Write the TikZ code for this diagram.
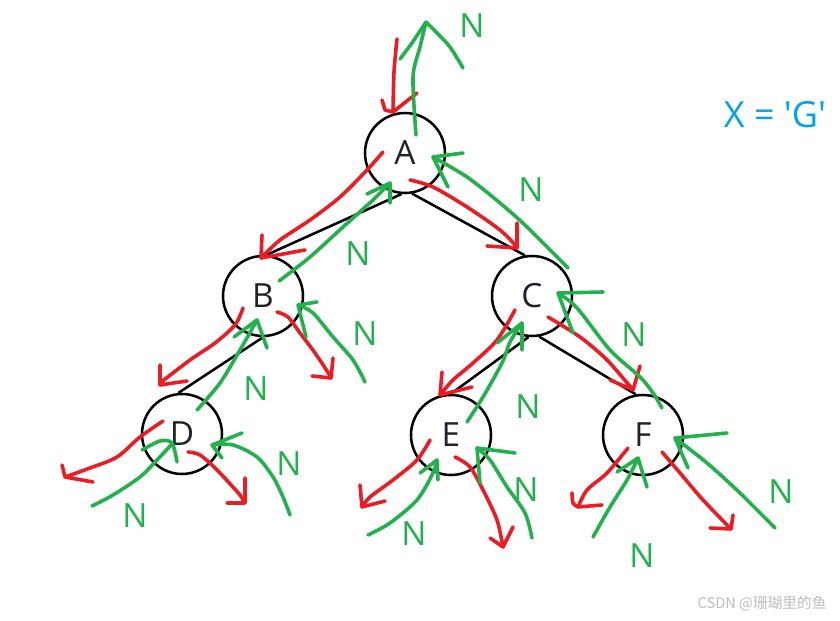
\documentclass[tikz,border=0pt]{standalone}
\usepackage{fontspec}
\setmainfont{Open Sans}
\newfontfamily\keyfont{Open Sans}
\newfontfamily\cjkfont{Noto Sans CJK SC}
\usepackage{tikz}
\usetikzlibrary{positioning}
\usepackage{xcolor}
\definecolor{penred}{RGB}{237,28,36}
\definecolor{pengreen}{RGB}{34,177,76}
\definecolor{xblue}{RGB}{0,162,232}
\definecolor{inkdark}{RGB}{32,33,44}
\definecolor{wmgray}{RGB}{190,190,190}
\tikzset{
  vtx/.style    ={draw, circle, minimum size=60pt, inner sep=0pt,
                  line width=1.9pt, text=inkdark,
                  font=\fontsize{25}{30}\selectfont},
  tedge/.style  ={line width=1.9pt},
  redpen/.style ={draw=penred, line width=2.7pt, line cap=round,
                  line join=round},
  grnpen/.style ={draw=pengreen, line width=2.7pt, line cap=round,
                  line join=round},
  nlab/.style   ={text=pengreen, inner sep=0pt,
                  font=\fontsize{25}{30}\selectfont},
  xlab/.style   ={text=xblue, inner sep=0pt,
                  font=\keyfont\fontsize{27}{32}\selectfont},
  wmark/.style  ={text=wmgray, inner sep=0pt,
                  font=\cjkfont\fontsize{11}{13}\selectfont},
}

\begin{document}
\begin{tikzpicture}[x=0.75pt, y=-0.75pt]
  \fill[white] (0,0) rectangle (840,621);
  % tree
  \node[vtx] (A) at (405,153) {A};
  \node[vtx] (B) at (263,296) {B};
  \node[vtx] (C) at (532,296) {C};
  \node[vtx] (D) at (182,434) {D};
  \node[vtx] (E) at (451,435) {E};
  \node[vtx] (F) at (643,435) {F};
  \draw[tedge] (A.-95) -- (B.85);
  \draw[tedge] (A.-80) -- (C.100);
  \draw[tedge] (B.-90) -- (D.95);
  \draw[tedge] (C.-95) -- (E.90);
  \draw[tedge] (C.-80) -- (F.100);

  % A: in from above, back up to the root
  \draw[redpen] plot[smooth] coordinates {(397,39) (394,72) (393,112)}
    (382,100) -- (385,110) -- (393,112) -- (417,93);
  \draw[grnpen] plot[smooth] coordinates {(416,135) (413,77) (420,47) (426,22)}
    (400,59) -- (412,43) -- (426,22)
    plot[smooth] coordinates {(426,22) (437,33) (450,47) (463,68)};
  \node[nlab] (n1) at (472,26) {N};

  % A -> B and back
  \draw[redpen] plot[smooth] coordinates {(383,152) (367,170) (340,197) (310,220) (280,240) (261,258)}
    (262,235) -- (261,258) -- (305,250);
  \draw[grnpen] plot[smooth] coordinates {(279,281) (310,257) (343,227) (373,200) (390,183)}
    (367,194) -- (390,183) -- (390,203);
  \node[nlab] (n2) at (358,254) {N};

  % A -> C and back
  \draw[redpen] plot[smooth] coordinates {(410,180) (433,187) (467,207) (500,230) (517,247)}
    (517,223) -- (517,248) -- (487,246);
  \draw[grnpen] plot[smooth] coordinates {(568,268) (527,227) (500,203) (467,177) (433,157)}
    (463,153) -- (433,157) -- (448,187);
  \node[nlab] (n3) at (531,190) {N};

  % B -> D and back
  \draw[redpen] plot[smooth] coordinates {(243,308) (235,325) (215,343) (190,360) (160,383)}
    (160,365) -- (160,385) -- (187,381);
  \draw[grnpen] plot[smooth] coordinates {(197,410) (220,383) (240,350) (257,320)}
    (234,337) -- (257,320) -- (267,348);
  \node[nlab] (n4) at (256,389) {N};

  % B right child
  \draw[redpen] plot[smooth] coordinates {(277,312) (288,317) (300,333) (315,353) (331,377)}
    (333,358) -- (331,378) -- (312,376);
  \draw[grnpen] plot[smooth] coordinates {(365,382) (353,360) (333,337) (313,313) (298,305)}
    (317,302) -- (298,305) -- (306,337);
  \node[nlab] (n5) at (365,334) {N};

  % D children
  \draw[redpen] plot[smooth] coordinates {(163,421) (140,437) (117,457) (90,468) (65,477)}
    (62,465) -- (65,477) -- (93,482);
  \draw[grnpen] plot[smooth] coordinates {(92,506) (113,495) (140,477) (157,460) (172,444)}
    plot[smooth] coordinates {(142,450) (160,441) (172,443) (177,462)};
  \node[nlab] (n6) at (135,516) {N};
  \draw[redpen] plot[smooth] coordinates {(188,452) (200,455) (217,470) (240,495) (244,503)}
    (245,478) -- (245,503) -- (227,503);
  \draw[grnpen] plot[smooth] coordinates {(290,515) (283,497) (273,477) (257,457) (233,445) (212,445)}
    (242,433) -- (212,445) -- (222,458);
  \node[nlab] (n7) at (289,464) {N};

  % C -> E and back
  \draw[redpen] plot[smooth] coordinates {(515,310) (497,340) (473,363) (453,380) (440,395)}
    (442,372) -- (440,395) -- (472,387);
  \draw[grnpen] plot[smooth] coordinates {(467,422) (483,397) (502,363) (510,342) (522,323)}
    (497,343) -- (522,323) -- (522,350);
  \node[nlab] (n8) at (528,407) {N};

  % E children
  \draw[redpen] plot[smooth] coordinates {(430,440) (417,460) (393,480) (370,497) (362,507)}
    (360,485) -- (362,507) -- (385,501);
  \draw[grnpen] plot[smooth] coordinates {(368,535) (390,523) (417,500) (433,473) (437,460)}
    (420,473) -- (437,460) -- (438,480);
  \node[nlab] (n9) at (414,534) {N};
  \draw[redpen] plot[smooth] coordinates {(455,457) (470,467) (483,490) (497,520) (503,547)}
    (490,538) -- (503,547) -- (513,527);
  \draw[grnpen] plot[smooth] coordinates {(532,538) (525,513) (507,487) (490,460) (477,448)}
    (515,453) -- (477,448) -- (480,483);
  \node[nlab] (n10) at (526,490) {N};

  % C -> F and back
  \draw[redpen] plot[smooth] coordinates {(548,317) (580,337) (607,360) (633,390)}
    (610,380) -- (633,390) -- (640,366);
  \draw[grnpen] plot[smooth] coordinates {(662,408) (653,393) (640,377) (610,350) (577,308) (558,293)}
    (603,292) -- (558,293) -- (573,333);
  \node[nlab] (n11) at (634,335) {N};

  % F children
  \draw[redpen] plot[smooth] coordinates {(628,448) (607,473) (587,490) (578,507)}
    plot[smooth] coordinates {(572,493) (573,503) (578,507)} -- (602,505);
  \draw[grnpen] plot[smooth] coordinates {(593,537) (610,507) (627,480) (638,458)}
    (617,472) -- (638,458) -- (647,487);
  \node[nlab] (n12) at (642,556) {N};
  \draw[redpen] plot[smooth] coordinates {(662,452) (680,473) (703,500) (731,529)}
    (710,528) -- (731,529) -- (733,515);
  \draw[grnpen] plot[smooth] coordinates {(775,528) (740,493) (707,463) (675,438)}
    (727,433) -- (675,438) -- (688,468);
  \node[nlab] (n13) at (781,492) {N};

  \node[xlab] (key) at (775,115) {X = 'G'};
  \node[wmark] (wm) at (762,604) {CSDN @珊瑚里的鱼};
\end{tikzpicture}
\end{document}
